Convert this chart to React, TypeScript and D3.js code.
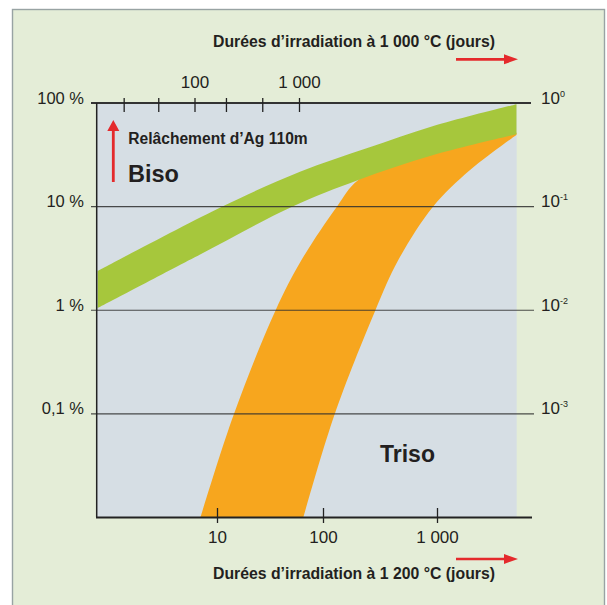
import * as d3 from "d3";

// Biso band edges (x: days at 1 200 °C, y: released fraction in %)
const bisoHighDays = [0.74, 11, 60, 239, 919, 4950];
const bisoHighPct = [2.39, 9.98, 21.7, 36.5, 60, 97.5];
const bisoLowDays = [0.74, 6.1, 50, 202, 919, 4950];
const bisoLowPct = [1.045, 3.24, 9.92, 18.1, 31.5, 50];

// Triso band edges (its upper part is hidden under Biso)
const trisoLeftDays = [6.9, 14.1, 35, 62, 131, 202, 919, 4950];
const trisoLeftPct = [0.01, 0.096, 0.98, 3.05, 10, 18.1, 38, 51.5];
const trisoRightDays = [64.5, 124, 283, 453, 913, 1930, 4950];
const trisoRightPct = [0.01, 0.096, 0.98, 3.05, 10, 22.6, 49.5];

const bottomTicks = [10, 100, 1000];
const bottomLabels = ["10", "100", "1 000"];
const topTicks = [21, 45, 100, 200, 445, 1000];
const topLabels = ["", "", "100", "", "", "1 000"];
const leftTicks = [100, 10, 1, 0.1];
const leftLabels = ["100 %", "10 %", "1 %", "0,1 %"];
const rightTicks = [1, 0.1, 0.01, 0.001];
const rightExps = ["0", "-1", "-2", "-3"];

const W = 607;
const H = 605;
const FONT = "'Liberation Sans', Arial, Helvetica, sans-serif";
const INK = "#231f20";
const RED = "#e42a2c";

const plotL = 96.7;
const plotR = 516.7;
const plotT = 103;
const plotB = 517.5;

type Pt = [number, number];
const zip = (xs: number[], ys: number[]): Pt[] => xs.map((d, i) => [d, ys[i]] as Pt);

export default function App() {
  const x = d3.scaleLog().domain([10, 100, 1000]).range([217.5, 323.5, 437.5]);
  const xTop = d3.scaleLog().domain([100, 1000]).range([195, 299.5]);
  const y = d3.scaleLog().domain([0.01, 100]).range([plotB, plotT]);

  const edge = d3
    .line<Pt>()
    .x((d) => x(d[0]))
    .y((d) => y(d[1]))
    .curve(d3.curveCatmullRom.alpha(0.5));

  // band = one edge forward, the other one backward
  const band = (a: Pt[], b: Pt[]) =>
    edge(a) + "L" + (edge(b.slice().reverse()) || "").slice(1) + "Z";

  const bisoPath = band(zip(bisoHighDays, bisoHighPct), zip(bisoLowDays, bisoLowPct));
  const trisoPath = band(zip(trisoLeftDays, trisoLeftPct), zip(trisoRightDays, trisoRightPct));

  const arrowH = (yy: number) =>
    `M456,${yy - 1.35}L504,${yy - 1.35}L504,${yy - 5}L518,${yy}L504,${yy + 5}L504,${yy + 1.35}L456,${yy + 1.35}Z`;

  return (
    <svg
      width={W}
      height={H}
      viewBox={`0 0 ${W} ${H}`}
      style={{ position: "absolute", left: 0, top: 0, fontFamily: FONT }}
    >
      <defs>
        <clipPath id="plotClip">
          <rect x={plotL} y={plotT} width={plotR - plotL} height={plotB - plotT} />
        </clipPath>
      </defs>
      <rect width={W} height={H} fill="#ffffff" />
      <rect x={12.5} y={9.5} width={592} height={610} fill="#e4edd7" stroke="#98a3a3" strokeWidth={1.4} />
      <rect x={plotL} y={plotT} width={plotR - plotL} height={plotB - plotT} fill="#d6dee4" />

      <g clipPath="url(#plotClip)">
        <path d={trisoPath} fill="#f7a61e" />
        <path d={bisoPath} fill="#a6c73c" />
      </g>

      {/* gridlines */}
      {leftTicks.slice(1).map((t) => (
        <line key={t} x1={91} x2={534} y1={y(t)} y2={y(t)} stroke="#2e2e2e" strokeOpacity={0.85} strokeWidth={1.1} />
      ))}

      {/* axes */}
      <line x1={91} x2={531} y1={plotT} y2={plotT} stroke="#333" strokeWidth={2} />
      <line x1={plotL} x2={plotL} y1={plotT} y2={plotB} stroke="#222" strokeWidth={1.5} />
      <line x1={plotL - 0.7} x2={532} y1={plotB} y2={plotB} stroke="#222" strokeWidth={1.8} />

      {bottomTicks.map((t, i) => (
        <g key={t}>
          <line x1={x(t)} x2={x(t)} y1={508} y2={523} stroke="#222" strokeWidth={1.3} />
          <text x={x(t)} y={543} textAnchor="middle" fontSize={17} fill={INK}>
            {bottomLabels[i]}
          </text>
        </g>
      ))}

      {topTicks.map((t, i) => (
        <g key={t}>
          <line x1={xTop(t)} x2={xTop(t)} y1={98} y2={112} stroke="#222" strokeWidth={1.3} />
          {topLabels[i] && (
            <text x={xTop(t)} y={88} textAnchor="middle" fontSize={17} fill={INK}>
              {topLabels[i]}
            </text>
          )}
        </g>
      ))}

      {leftTicks.map((t, i) => (
        <text key={t} x={84} y={y(t) + 0.5} textAnchor="end" fontSize={16.5} fill={INK}>
          {leftLabels[i]}
        </text>
      ))}

      {rightTicks.map((t, i) => (
        <text key={t} x={541} y={y(t * 100) + 0.5} fontSize={17} fill={INK}>
          10
          <tspan fontSize={9} dy={-7}>
            {rightExps[i]}
          </tspan>
        </text>
      ))}

      {/* titles */}
      <text x={213} y={47} fontSize={15.8} fontWeight="bold" fill={INK}>
        Durées d’irradiation à 1 000 °C (jours)
      </text>
      <path d={arrowH(59.3)} fill={RED} />
      <text x={213} y={579} fontSize={15.8} fontWeight="bold" fill={INK}>
        Durées d’irradiation à 1 200 °C (jours)
      </text>
      <path d={arrowH(559)} fill={RED} />

      {/* annotations */}
      <path d="M111.9,182L111.9,131L107.3,131L113.3,120L119.3,131L114.7,131L114.7,182Z" fill={RED} />
      <text x={128.3} y={144} fontSize={15.6} fontWeight="bold" fill={INK}>
        Relâchement d’Ag 110m
      </text>
      <text x={128} y={182.3} fontSize={23.5} fontWeight="bold" fill={INK}>
        Biso
      </text>
      <text x={380} y={462.3} fontSize={23} fontWeight="bold" fill={INK}>
        Triso
      </text>
    </svg>
  );
}
